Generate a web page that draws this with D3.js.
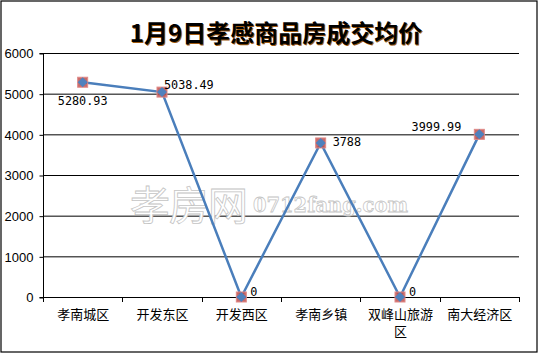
<!DOCTYPE html>
<html><head><meta charset="utf-8">
<script src="https://cdn.jsdelivr.net/npm/d3@7"></script>
<style>body{margin:0;background:#fff;}svg{display:block;}</style>
</head><body>
<svg id="c" width="539" height="354"></svg>
<script>
const categories = ["孝南城区","开发东区","开发西区","孝南乡镇","双峰山旅游区","南大经济区"];
const values = [5280.93, 5038.49, 0, 3788, 0, 3999.99];
const labels = ["5280.93","5038.49","0","3788","0","3999.99"];
const yTicks = [0,1000,2000,3000,4000,5000,6000];
const title = "1月9日孝感商品房成交均价";

const svg = d3.select("#c");
svg.append("rect").attr("x",1).attr("y",1).attr("width",536).attr("height",351)
  .attr("fill","#fff").attr("stroke","#000").attr("stroke-width",1.2);

const L=43, R=519, T=53, B=297;
const x = d3.scaleBand().domain(categories).range([L,R]);
const y = d3.scaleLinear().domain([0,6000]).range([B,T]);

// gridlines
svg.append("g").selectAll("line").data(yTicks.slice(1)).join("line")
  .attr("x1",L).attr("x2",R).attr("y1",d=>y(d)+0.5).attr("y2",d=>y(d)+0.5)
  .attr("stroke","#000").attr("stroke-width",1);

// y axis
const ya = svg.append("g").attr("transform",`translate(${L+0.5},0.5)`)
  .call(d3.axisLeft(y).tickValues(yTicks).tickSize(4).tickPadding(6).tickFormat(d3.format("d")));
ya.select(".domain").attr("stroke","#000").attr("d",`M-4,${T}H0V${B}H-4`);
ya.selectAll("text").attr("font-family","Liberation Sans, Arial, sans-serif").attr("font-size",13).attr("fill","#000");

// x axis
const xa = svg.append("g").attr("transform",`translate(0.5,${B+0.5})`)
  .call(d3.axisBottom(x).tickSize(0).tickPadding(12));
xa.select(".domain").attr("stroke","#000").attr("d",`M${L},0H${R}`);
xa.selectAll(".tick text").each(function(d){
  const t=d3.select(this); t.text(null);
  const lines = d.length>5 ? [d.slice(0,5), d.slice(5)] : [d];
  lines.forEach((s,i)=>t.append("tspan").attr("x",0).attr("dy", i===0?"0.71em":"1.35em").text(s));
}).attr("font-family","Noto Sans CJK SC, sans-serif").attr("font-size",13).attr("fill","#000");
// x tick marks at band boundaries
const bounds = categories.map(c=>x(c)).concat([R]);
svg.append("g").selectAll("line").data(bounds).join("line")
  .attr("x1",d=>Math.round(d)+0.5).attr("x2",d=>Math.round(d)+0.5).attr("y1",B).attr("y2",B+5)
  .attr("stroke","#000");

// watermark
const wm = svg.append("g").attr("fill","#fff").attr("stroke","#c4c4c4").attr("stroke-width",0.8);
wm.append("text").attr("x",130).attr("y",220).attr("font-family","Noto Sans CJK SC, sans-serif")
  .attr("font-size",40).attr("textLength",118).text("孝房网");
wm.append("text").attr("x",253).attr("y",212).attr("font-family","DejaVu Serif, serif")
  .attr("font-size",21).attr("font-weight","bold").attr("textLength",155).attr("lengthAdjust","spacingAndGlyphs").text("0712fang.com");

// line
const cx = d=>x(d)+x.bandwidth()/2;
svg.append("path").datum(values.map((v,i)=>[cx(categories[i]),y(v)]))
  .attr("d",d3.line()).attr("fill","none").attr("stroke","#4a7ebb").attr("stroke-width",2.5);

// markers
const mk = svg.append("g").selectAll("g").data(values).join("g")
  .attr("transform",(d,i)=>`translate(${cx(categories[i])},${y(d)})`);
mk.append("rect").attr("x",-5).attr("y",-5).attr("width",10).attr("height",10)
  .attr("fill","#c0504d").attr("fill-opacity",0.85).attr("stroke","#e08a88").attr("stroke-width",1);
mk.append("path").attr("d","M0,-5L5,0L0,5L-5,0Z").attr("fill","#4f81bd");

// data labels: [dx, baseline dy, anchor]
const off = [[0,23,"middle"],[2,-3,"start"],[9,-1,"start"],[12,3,"start"],[9,-1,"start"],[-18,-3,"end"]];
svg.append("g").selectAll("text").data(values).join("text")
  .attr("x",(d,i)=>cx(categories[i])+off[i][0]).attr("y",(d,i)=>y(d)+off[i][1])
  .attr("text-anchor",(d,i)=>off[i][2])
  .attr("font-family","DejaVu Sans Mono, monospace").attr("font-size",11.8).attr("fill","#000")
  .text((d,i)=>labels[i]);

// title
svg.append("text").attr("x",277).attr("y",43).attr("text-anchor","middle")
  .attr("font-family","Noto Sans CJK SC, sans-serif").attr("font-size",24).attr("font-weight","bold")
  .attr("fill","#a05a10").text(title);
svg.append("text").attr("x",276).attr("y",42).attr("text-anchor","middle")
  .attr("font-family","Noto Sans CJK SC, sans-serif").attr("font-size",24).attr("font-weight","bold")
  .attr("fill","#000").text(title);
</script>
</body></html>
